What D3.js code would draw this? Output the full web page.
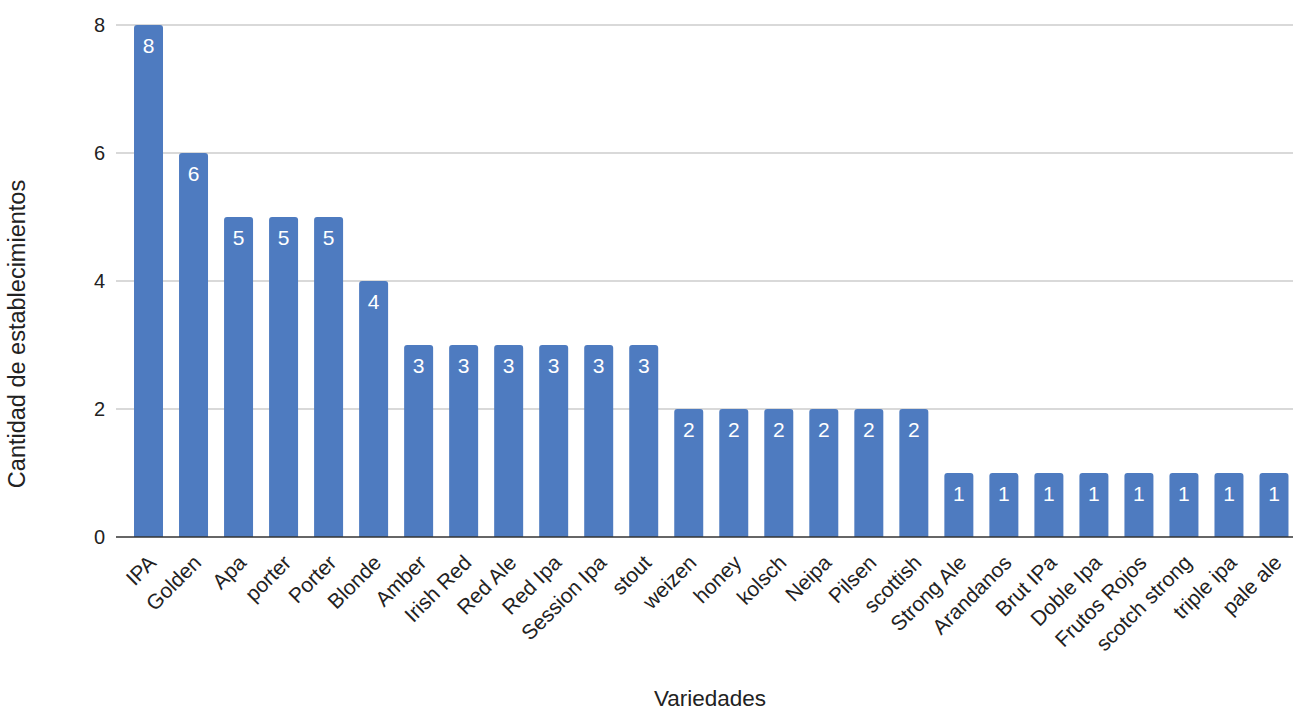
<!DOCTYPE html>
<html>
<head>
<meta charset="utf-8">
<script src="https://cdn.jsdelivr.net/npm/d3@7"></script>
<style>
  html, body { margin: 0; padding: 0; background: #fff; }
  svg { display: block; font-family: "Liberation Sans", Arial, sans-serif; }
</style>
</head>
<body>
<svg id="chart" width="1293" height="711"></svg>
<script>
// Beer styles and how many establishments offer each one
const categories = ["IPA", "Golden", "Apa", "porter", "Porter", "Blonde", "Amber", "Irish Red",
  "Red Ale", "Red Ipa", "Session Ipa", "stout", "weizen", "honey", "kolsch", "Neipa", "Pilsen",
  "scottish", "Strong Ale", "Arandanos", "Brut IPa", "Doble Ipa", "Frutos Rojos", "scotch strong",
  "triple ipa", "pale ale"];
const counts = [8, 6, 5, 5, 5, 4, 3, 3, 3, 3, 3, 3, 2, 2, 2, 2, 2, 2, 1, 1, 1, 1, 1, 1, 1, 1];
const yTicks = [0, 2, 4, 6, 8];
const xTitle = "Variedades";
const yTitle = "Cantidad de establecimientos";

const svg = d3.select("#chart");
const plot = { left: 116, right: 1293, top: 25, bottom: 537 };

const x = d3.scaleBand()
  .domain(categories)
  .range([126, 1296.5])
  .paddingInner(0.356)
  .paddingOuter(0.178);

const y = d3.scaleLinear().domain([0, 8]).range([plot.bottom, plot.top]);

// Horizontal grid lines
svg.append("g")
  .selectAll("line")
  .data(yTicks.filter(d => d !== 0))
  .join("line")
  .attr("x1", plot.left).attr("x2", plot.right)
  .attr("y1", d => y(d)).attr("y2", d => y(d))
  .attr("stroke", "#cccccc").attr("stroke-width", 1.5);

// Y axis tick labels
const yAxis = d3.axisLeft(y).tickValues(yTicks).tickSize(0).tickPadding(11);
svg.append("g")
  .attr("transform", `translate(${plot.left},0)`)
  .call(yAxis)
  .call(g => g.select(".domain").remove())
  .call(g => g.selectAll("text")
    .attr("font-size", 20)
    .attr("fill", "#222")
    .attr("font-family", "\"Liberation Sans\", Arial, sans-serif"));

// Bars with rounded top corners
const r = 3;
function barPath(d, i) {
  const x0 = x(categories[i]), w = x.bandwidth();
  const yt = y(d), yb = y(0);
  return `M${x0},${yb}V${yt + r}Q${x0},${yt} ${x0 + r},${yt}H${x0 + w - r}Q${x0 + w},${yt} ${x0 + w},${yt + r}V${yb}Z`;
}
svg.append("g")
  .selectAll("path")
  .data(counts)
  .join("path")
  .attr("d", barPath)
  .attr("fill", "#4e7bc0");

// Value labels inside bars
svg.append("g")
  .selectAll("text")
  .data(counts)
  .join("text")
  .attr("x", (d, i) => x(categories[i]) + x.bandwidth() / 2)
  .attr("y", d => y(d) + 20)
  .attr("dy", "0.36em")
  .attr("text-anchor", "middle")
  .attr("font-size", 21)
  .attr("fill", "#ffffff")
  .text(d => d);

// Baseline
svg.append("line")
  .attr("x1", plot.left).attr("x2", plot.right)
  .attr("y1", y(0)).attr("y2", y(0))
  .attr("stroke", "#333").attr("stroke-width", 1.5);

// X axis category labels, rotated
const xAxis = d3.axisBottom(x).tickSize(0).tickPadding(0);
svg.append("g")
  .attr("transform", `translate(0,${y(0)})`)
  .call(xAxis)
  .call(g => g.select(".domain").remove())
  .call(g => g.selectAll("text")
    .attr("font-size", 21)
    .attr("fill", "#222")
    .attr("font-family", "\"Liberation Sans\", Arial, sans-serif")
    .attr("text-anchor", "end")
    .attr("y", 0).attr("dy", 0)
    .attr("transform", "translate(9,27) rotate(-45)"));

// Axis titles
svg.append("text")
  .attr("x", 710).attr("y", 706)
  .attr("text-anchor", "middle")
  .attr("font-size", 22.5)
  .attr("fill", "#222")
  .text(xTitle);

svg.append("text")
  .attr("transform", "translate(25,334) rotate(-90)")
  .attr("text-anchor", "middle")
  .attr("font-size", 23.5)
  .attr("fill", "#222")
  .text(yTitle);
</script>
</body>
</html>
